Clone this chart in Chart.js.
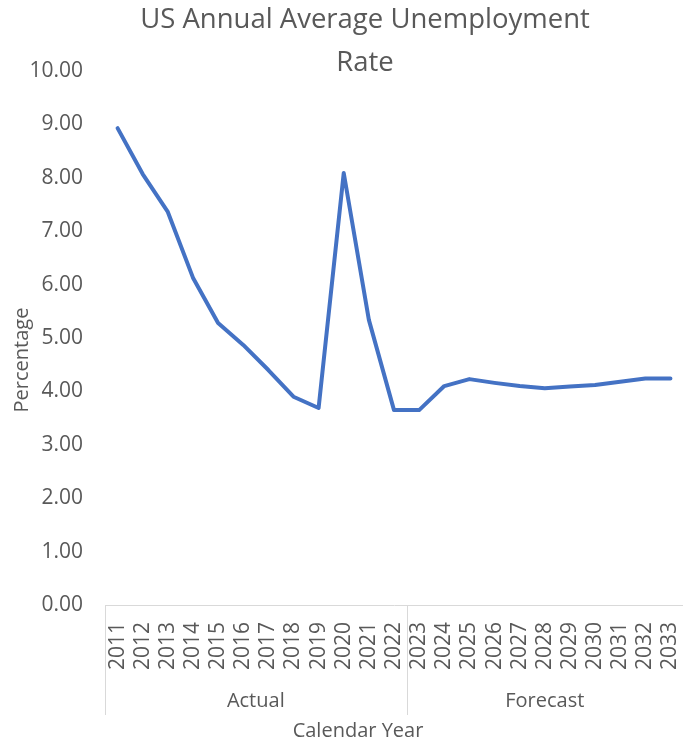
<!DOCTYPE html>
<html>
<head>
<meta charset="utf-8">
<script src="https://cdn.jsdelivr.net/npm/chart.js@4.4.0/dist/chart.umd.min.js"></script>
<style>
  html, body { margin: 0; padding: 0; background: #fff; }
</style>
</head>
<body>
<canvas id="myChart" width="683" height="742"></canvas>
<script>
// chart data
const years = ['2011', '2012', '2013', '2014', '2015', '2016', '2017', '2018', '2019', '2020', '2021', '2022',
  '2023', '2024', '2025', '2026', '2027', '2028', '2029', '2030', '2031', '2032', '2033'];
const unemploymentRate = [8.93, 8.07, 7.36, 6.13, 5.28, 4.87, 4.40, 3.90, 3.69, 8.09, 5.34, 3.65,
  3.65, 4.10, 4.23, 4.16, 4.10, 4.06, 4.09, 4.12, 4.18, 4.24, 4.24];
const groupNames = ['Actual', 'Forecast'];
const groupSizes = [12, 11];
const yTickValues = [0, 1, 2, 3, 4, 5, 6, 7, 8, 9, 10];
const titleLines = ['US Annual Average Unemployment', 'Rate'];
const yTitle = 'Percentage';
const xTitle = 'Calendar Year';

const textColor = '#595959';
const lineColor = '#d9d9d9';
const fontFamily = '"Open Sans", "Noto Sans", sans-serif';

// title, axis titles and the two-level category labels
const extraText = {
  id: 'extraText',
  afterDraw(chart) {
    const c = chart.ctx;
    const x = chart.scales.x;
    const area = chart.chartArea;
    c.save();
    c.fillStyle = textColor;

    c.font = '27.5px ' + fontFamily;
    c.textAlign = 'center';
    c.textBaseline = 'alphabetic';
    c.fillText(titleLines[0], 365, 28);
    c.fillText(titleLines[1], 365, 71);

    // group separators and names
    const half = (x.getPixelForValue(1) - x.getPixelForValue(0)) / 2;
    c.strokeStyle = lineColor;
    c.lineWidth = 1;
    c.font = '20px ' + fontFamily;
    let start = 0;
    groupSizes.forEach((n, i) => {
      const left = x.getPixelForValue(start) - half;
      const right = x.getPixelForValue(start + n - 1) + half;
      c.beginPath();
      c.moveTo(Math.round(left) + 0.5, area.bottom);
      c.lineTo(Math.round(left) + 0.5, 715);
      c.stroke();
      c.fillText(groupNames[i], (left + right) / 2, 707);
      start += n;
    });

    c.fillText(xTitle, 358, 737);

    c.translate(28, 360);
    c.rotate(-Math.PI / 2);
    c.fillText(yTitle, 0, 0);
    c.restore();
  }
};

new Chart(document.getElementById('myChart'), {
  type: 'line',
  data: {
    labels: years,
    datasets: [{
      data: unemploymentRate,
      borderColor: '#4472C4',
      borderWidth: 4,
      borderCapStyle: 'round',
      borderJoinStyle: 'round',
      pointRadius: 0,
      tension: 0
    }]
  },
  options: {
    responsive: false,
    animation: false,
    devicePixelRatio: 1,
    layout: { padding: { top: 71, left: 0, right: 0, bottom: 0 } },
    plugins: {
      legend: { display: false },
      title: { display: false },
      tooltip: { enabled: false }
    },
    scales: {
      x: {
        offset: true,
        grid: { display: false, drawTicks: false },
        border: { display: true, color: lineColor, width: 1 },
        ticks: {
          autoSkip: false,
          minRotation: 90,
          maxRotation: 90,
          padding: 17,
          color: textColor,
          font: { family: fontFamily, size: 21 }
        },
        afterFit(scale) {
          scale.height = 137;
          scale.paddingLeft = 0;
          scale.paddingRight = 0;
        }
      },
      y: {
        min: 0,
        max: 10,
        grid: { display: false, drawTicks: false },
        border: { display: false },
        afterBuildTicks(scale) {
          scale.ticks = yTickValues.map(v => ({ value: v }));
        },
        ticks: {
          padding: 22,
          color: textColor,
          font: { family: fontFamily, size: 21 },
          callback: v => v.toFixed(2)
        },
        afterFit(scale) {
          scale.width = 105;
        }
      }
    }
  },
  plugins: [extraText]
});
</script>
</body>
</html>
